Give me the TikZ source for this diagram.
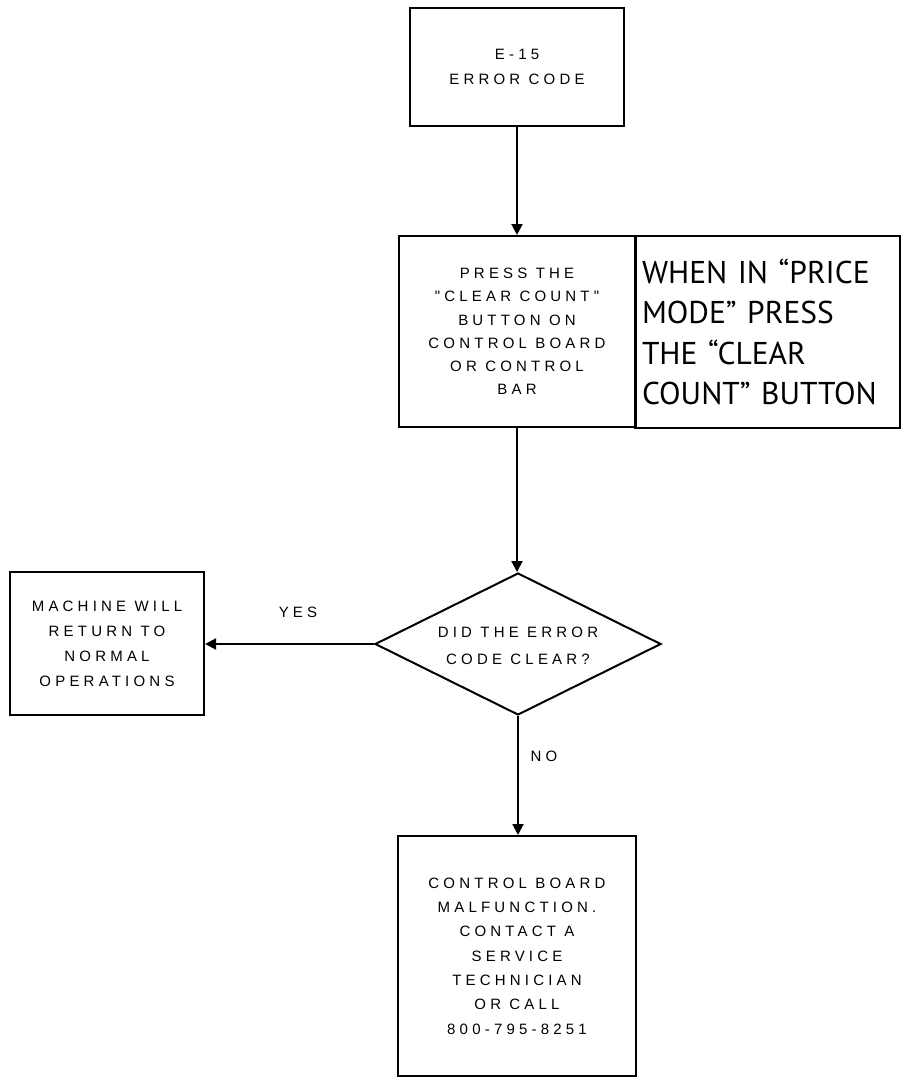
\documentclass[tikz,border=0pt]{standalone}
\usepackage{fontspec}
\setmainfont{Liberation Sans}
\newfontfamily\flowfont[LetterSpace=28]{Liberation Sans}
\newfontfamily\notefont{PT Sans}
\usetikzlibrary{shapes.geometric,arrows.meta}
\begin{document}
\begin{tikzpicture}[x=1pt,y=-1pt,
  box/.style={draw, line width=2pt, rectangle, inner sep=0pt, align=center},
  txt/.style={font=\flowfont\fontsize{15}{#1}\selectfont},
  decision/.style={draw, line width=2pt, diamond, inner sep=0pt},
  flow/.style={line width=2pt, -{Triangle[length=11pt,width=11pt]}},
  lbl/.style={font=\flowfont\fontsize{15}{18}\selectfont, inner sep=0pt}]
\useasboundingbox (0,0) rectangle (904,1078);

\node[box, txt=25, minimum width=214pt, minimum height=118pt] (start) at (517,67) {E-15\\ERROR CODE};
\node[box, txt=23.2, minimum width=237pt, minimum height=191pt] (press) at (517,331.5)
  {PRESS THE\\"CLEAR COUNT"\\BUTTON ON\\CONTROL BOARD\\OR CONTROL\\BAR};
\node[box, font=\notefont\fontsize{31.5}{40.5}\selectfont, align=left, text width=251pt, inner xsep=7pt, inner ysep=0pt, minimum height=192pt] (note) at (767.5,332)
  {WHEN IN “PRICE\\MODE” PRESS\\THE “CLEAR\\COUNT” BUTTON};
\node[decision, minimum width=286pt, minimum height=142pt,
  label={[txt=27, align=center, yshift=-2pt]center:{DID THE ERROR\\CODE CLEAR?}}] (dec) at (518,644) {};
\node[box, txt=25, minimum width=194pt, minimum height=143pt] (ok) at (107,643.5)
  {MACHINE WILL\\RETURN TO\\NORMAL\\OPERATIONS};
\node[box, txt=24.3, minimum width=238pt, minimum height=240pt] (svc) at (517,956)
  {CONTROL BOARD\\MALFUNCTION.\\CONTACT A\\SERVICE\\TECHNICIAN\\OR CALL\\800-795-8251};

\node[lbl] (yes) at (298,612) {YES};
\node[lbl] (no) at (544,756) {NO};

\draw[flow] (start.south) -- (start.south |- press.north);
\draw[flow] (press.south) -- (press.south |- dec.north);
\draw[flow] (dec.west) -- (ok.east |- dec.west);
\draw[flow] (dec.south) -- (dec.south |- svc.north);
\end{tikzpicture}
\end{document}
